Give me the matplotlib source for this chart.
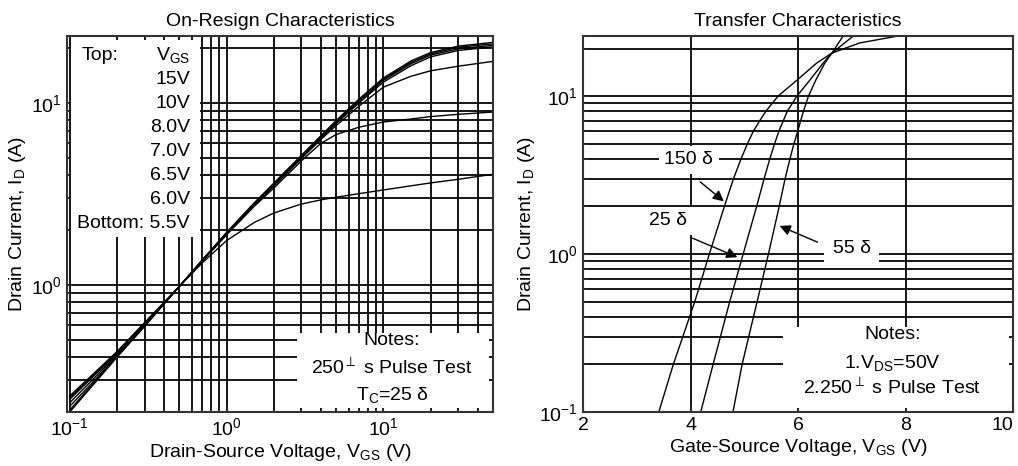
import matplotlib
matplotlib.use("Agg")
import matplotlib.pyplot as plt
from matplotlib.patches import Rectangle
from matplotlib.ticker import NullFormatter

plt.rcParams["font.family"] = ["Liberation Sans", "DejaVu Sans"]
plt.rcParams["mathtext.fontset"] = "custom"
plt.rcParams["mathtext.rm"] = "Liberation Sans"
plt.rcParams["mathtext.it"] = "Liberation Sans"
plt.rcParams["mathtext.default"] = "regular"

# On-region data (Vds in V, Id in A) --------------------------------------------
vds = [0.1, 0.15, 0.2, 0.3, 0.5, 0.7, 1, 1.5, 2, 3, 4, 5, 7, 10, 15, 20, 30, 50]
id_15v = [0.20, 0.30, 0.40, 0.59, 0.98, 1.37, 1.94, 2.82, 3.62, 5.15, 6.6, 8.0, 10.5, 13.7, 17.0, 18.9, 20.5, 21.5]
id_10v = [0.205, 0.305, 0.405, 0.595, 0.98, 1.37, 1.93, 2.80, 3.58, 5.10, 6.55, 7.9, 10.35, 13.5, 16.7, 18.6, 20.2, 21.1]
id_8v = [0.215, 0.31, 0.41, 0.60, 0.98, 1.36, 1.92, 2.78, 3.55, 5.05, 6.5, 7.8, 10.2, 13.3, 16.4, 18.3, 19.8, 20.7]
id_7v = [0.225, 0.32, 0.415, 0.605, 0.98, 1.36, 1.91, 2.76, 3.52, 5.00, 6.4, 7.7, 10.0, 13.0, 16.0, 17.9, 19.4, 20.3]
id_65v = [0.235, 0.33, 0.42, 0.61, 0.98, 1.35, 1.90, 2.74, 3.48, 4.95, 6.3, 7.5, 9.6, 12.2, 14.0, 15.0, 15.9, 16.9]
id_6v = [0.24, 0.335, 0.425, 0.615, 0.98, 1.35, 1.88, 2.70, 3.40, 4.80, 6.0, 6.7, 7.35, 7.85, 8.15, 8.4, 8.65, 8.9]
id_55v = [0.245, 0.34, 0.43, 0.62, 0.98, 1.32, 1.75, 2.20, 2.48, 2.78, 2.93, 3.03, 3.17, 3.32, 3.5, 3.63, 3.8, 4.05]
on_curves = [id_15v, id_10v, id_8v, id_7v, id_65v, id_6v, id_55v]
vgs_labels = ["15V", "10V", "8.0V", "7.0V", "6.5V", "6.0V", "Bottom: 5.5V"]

# Transfer data (Vgs in V, Id in A) ---------------------------------------------
vgs_150 = [3.41, 3.68, 4.08, 4.35, 4.63, 4.80, 4.94, 5.06, 5.17, 5.29, 5.40, 5.63, 5.98, 6.35, 6.63, 7.15, 7.86]
id_150 = [0.1, 0.2, 0.5, 1.0, 2, 3, 4, 5, 6, 7, 8, 10, 12.6, 16.2, 18.7, 21.7, 24]
id_pts = [0.1, 0.2, 0.5, 1.0, 2, 3, 4, 5, 6, 8, 10, 12.6, 16.2, 18.7, 24]
vgs_25 = [4.19, 4.42, 4.73, 4.98, 5.23, 5.37, 5.475, 5.565, 5.645, 5.80, 5.98, 6.22, 6.47, 6.63, 7.03]
vgs_m55 = [4.79, 4.96, 5.24, 5.45, 5.65, 5.76, 5.85, 5.925, 5.995, 6.10, 6.195, 6.33, 6.50, 6.63, 6.84]

grid_kw = dict(color="#151515", lw=1.4)
fs = 14
W, H = 1018, 466

fig = plt.figure(figsize=(W / 100, H / 100), dpi=100)
ax1 = fig.add_axes([67 / W, 1 - 412 / H, 426 / W, 376 / H])
ax2 = fig.add_axes([583 / W, 1 - 412 / H, 430 / W, 376 / H])

for ax in (ax1, ax2):
    ax.set_axisbelow(True)
    ax.tick_params(which="both", direction="in", labelsize=fs, color="#333")
    ax.tick_params(which="major", length=4)
    ax.tick_params(which="minor", length=3)
    for s in ax.spines.values():
        s.set_color("#333")
        s.set_linewidth(1.5)

# left chart ---------------------------------------------------------------------
ax1.set_xscale("log")
ax1.set_yscale("log")
for y in on_curves:
    ax1.plot(vds, y, color="black", lw=1.0, zorder=2)
ax1.set_xlim(0.096, 50)
ax1.set_ylim(0.2, 23.3)
ax1.xaxis.set_minor_formatter(NullFormatter())
ax1.yaxis.set_minor_formatter(NullFormatter())
ax1.grid(which="both", **grid_kw)
ax1.set_title("On-Resign Characteristics", fontsize=fs, pad=7)
ax1.set_xlabel(r"Drain-Source Voltage, V$_\mathregular{GS}$ (V)", fontsize=fs, labelpad=2)
ax1.set_ylabel(r"Drain Current, I$_\mathregular{D}$ (A)", fontsize=fs, labelpad=2)

# white boxes behind the text blocks
ax1.add_patch(Rectangle((0.0094, 0.465), 0.303, 0.524, transform=ax1.transAxes,
                        facecolor="white", edgecolor="none", zorder=1))
ax1.add_patch(Rectangle((0.54, 0.0106), 0.4506, 0.2, transform=ax1.transAxes,
                        facecolor="white", edgecolor="none", zorder=1))

ax1.text(0.035, 0.949, "Top:", transform=ax1.transAxes, fontsize=fs, va="center", ha="left", zorder=3)
ax1.text(0.289, 0.949, r"V$_\mathregular{GS}$", transform=ax1.transAxes, fontsize=fs,
         va="center", ha="right", zorder=3)
for i, lab in enumerate(vgs_labels):
    ax1.text(0.289, 0.883 - i * 0.0637, lab, transform=ax1.transAxes, fontsize=fs,
             va="center", ha="right", zorder=3)

ax1.text(0.763, 0.191, "Notes:", transform=ax1.transAxes, fontsize=fs, ha="center", va="center", zorder=3)
ax1.text(0.763, 0.117, r"250$^{\perp}$ s Pulse Test", transform=ax1.transAxes, fontsize=fs,
         ha="center", va="center", zorder=3)
ax1.text(0.763, 0.045, r"T$_\mathregular{C}$=25 δ", transform=ax1.transAxes, fontsize=fs,
         ha="center", va="center", zorder=3)

# right chart --------------------------------------------------------------------
ax2.set_yscale("log")
ax2.plot(vgs_150, id_150, color="black", lw=1.0, zorder=2)
ax2.plot(vgs_25, id_pts, color="black", lw=1.0, zorder=2)
ax2.plot(vgs_m55, id_pts, color="black", lw=1.0, zorder=2)
ax2.set_xlim(2, 10)
ax2.set_ylim(0.1, 24)
ax2.set_xticks([2, 4, 6, 8, 10])
ax2.get_xticklabels()[-1].set_horizontalalignment("right")
ax2.yaxis.set_minor_formatter(NullFormatter())
ax2.grid(axis="y", which="both", **grid_kw)
ax2.grid(axis="x", which="major", **grid_kw)
ax2.set_title("Transfer Characteristics", fontsize=fs, pad=7)
ax2.set_xlabel(r"Gate-Source Voltage, V$_\mathregular{GS}$ (V)", fontsize=fs, labelpad=2)
ax2.set_ylabel(r"Drain Current, I$_\mathregular{D}$ (A)", fontsize=fs, labelpad=2)

ax2.add_patch(Rectangle((0.465, 0.0106), 0.5257, 0.215, transform=ax2.transAxes,
                        facecolor="white", edgecolor="none", zorder=1))

arrow = dict(arrowstyle="-|>", color="black", lw=1.0, mutation_scale=16)
box = dict(facecolor="white", edgecolor="none", pad=4)
ax2.annotate("", xy=(4.66, 2.1), xytext=(4.14, 2.94), arrowprops=arrow, zorder=3)
ax2.annotate("", xy=(4.92, 0.94), xytext=(3.99, 1.28), arrowprops=arrow, zorder=3)
ax2.annotate("", xy=(5.61, 1.53), xytext=(6.41, 1.17), arrowprops=arrow, zorder=3)
ax2.text(3.97, 3.94, "150 δ", fontsize=fs, ha="center", va="center", bbox=box, zorder=3)
ax2.text(3.58, 1.62, "25 δ", fontsize=fs, ha="center", va="center", bbox=box, zorder=3)
ax2.text(7.0, 1.08, "55 δ", fontsize=fs, ha="center", va="center",
         bbox=dict(facecolor="white", edgecolor="none", pad=6), zorder=3)

ax2.text(0.719, 0.205, "Notes:", transform=ax2.transAxes, fontsize=fs, ha="center", va="center", zorder=3)
ax2.text(0.719, 0.130, r"1.V$_\mathregular{DS}$=50V", transform=ax2.transAxes, fontsize=fs,
         ha="center", va="center", zorder=3)
ax2.text(0.719, 0.064, r"2.250$^{\perp}$ s Pulse Test", transform=ax2.transAxes, fontsize=fs,
         ha="center", va="center", zorder=3)

fig.savefig("out.png", dpi=100)
